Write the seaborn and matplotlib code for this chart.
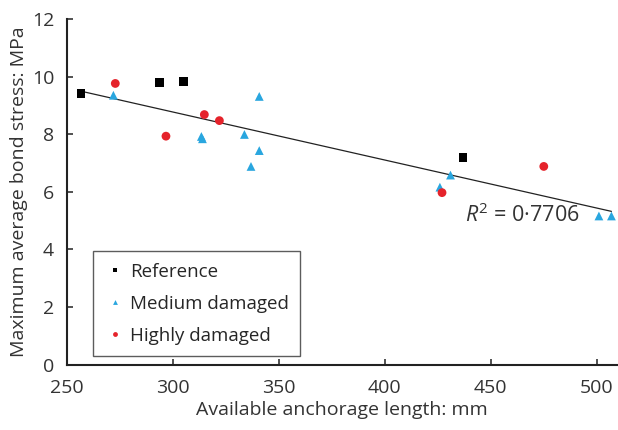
import matplotlib
matplotlib.use("Agg")
import matplotlib.pyplot as plt
import seaborn as sns
import pandas as pd
import numpy as np

# Data
ref_x = [256.7, 293.7, 304.9, 436.9]
ref_y = [9.41, 9.78, 9.83, 7.18]
med_x = [272.0, 313.5, 314.0, 333.8, 340.8, 340.8, 336.9, 426.0, 431.0, 501.0, 506.9]
med_y = [9.35, 7.92, 7.84, 7.99, 9.31, 7.43, 6.88, 6.16, 6.58, 5.16, 5.16]
high_x = [272.9, 296.8, 314.9, 322.0, 427.0, 475.0]
high_y = [9.76, 7.93, 8.68, 8.47, 5.97, 6.88]
trend_x = [258.6, 506.9]
trend_y = [9.46, 5.32]
groups = ["Reference", "Medium damaged", "Highly damaged"]
r2_label = "0·7706"

sns.set_theme(style="ticks")
plt.rcParams["font.family"] = ["Open Sans", "DejaVu Sans"]
plt.rcParams["mathtext.fontset"] = "custom"
plt.rcParams["mathtext.rm"] = "Open Sans"
plt.rcParams["mathtext.it"] = "Open Sans:italic"

df = pd.DataFrame({
    "x": ref_x + med_x + high_x,
    "y": ref_y + med_y + high_y,
    "group": [groups[0]] * len(ref_x) + [groups[1]] * len(med_x) + [groups[2]] * len(high_x),
})
trend = pd.DataFrame({"x": trend_x, "y": trend_y})

fig = plt.figure(figsize=(6.18, 4.30), dpi=100)
ax = fig.add_axes([0.108, 0.152, 0.892, 0.804])

sns.lineplot(data=trend, x="x", y="y", color="#222222", lw=0.9, ax=ax, legend=False)
palette = {groups[0]: "#000000", groups[1]: "#29a6df", groups[2]: "#e5232b"}
markers = {groups[0]: "s", groups[1]: "^", groups[2]: "o"}
sns.scatterplot(data=df, x="x", y="y", hue="group", style="group", palette=palette,
                markers=markers, s=40, linewidth=0, ax=ax, zorder=3)

handles, labels = ax.get_legend_handles_labels()
leg = ax.legend(handles, labels, loc="lower left", bbox_to_anchor=(0.048, 0.025),
                borderaxespad=0, fontsize=13.5, markerscale=0.55, frameon=True,
                fancybox=False, edgecolor="#333333", handletextpad=0.25,
                handlelength=1.1, borderpad=0.6, labelspacing=0.75)
leg.get_frame().set_linewidth(1.0)

ax.text(437.9, 4.95, r"$R^2$ = " + r2_label, fontsize=15.5, ha="left", va="baseline",
        color="#333333")

ax.set_xlim(250, 510)
ax.set_ylim(0, 12)
ax.set_xticks([250, 300, 350, 400, 450, 500])
ax.set_yticks([0, 2, 4, 6, 8, 10, 12])
ax.tick_params(direction="in", length=4, width=1.2, labelsize=14, colors="#333333",
               labelcolor="#333333")
ax.tick_params(axis="x", pad=10)
ax.tick_params(axis="y", pad=9)
ax.set_xlabel("Available anchorage length: mm", fontsize=14, color="#333333", labelpad=3)
ax.set_ylabel("Maximum average bond stress: MPa", fontsize=14, color="#333333", labelpad=3)
for s in ["top", "right"]:
    ax.spines[s].set_visible(False)
for s in ["left", "bottom"]:
    ax.spines[s].set_color("#222222")
    ax.spines[s].set_linewidth(1.5)

fig.savefig("out.png", dpi=100)
